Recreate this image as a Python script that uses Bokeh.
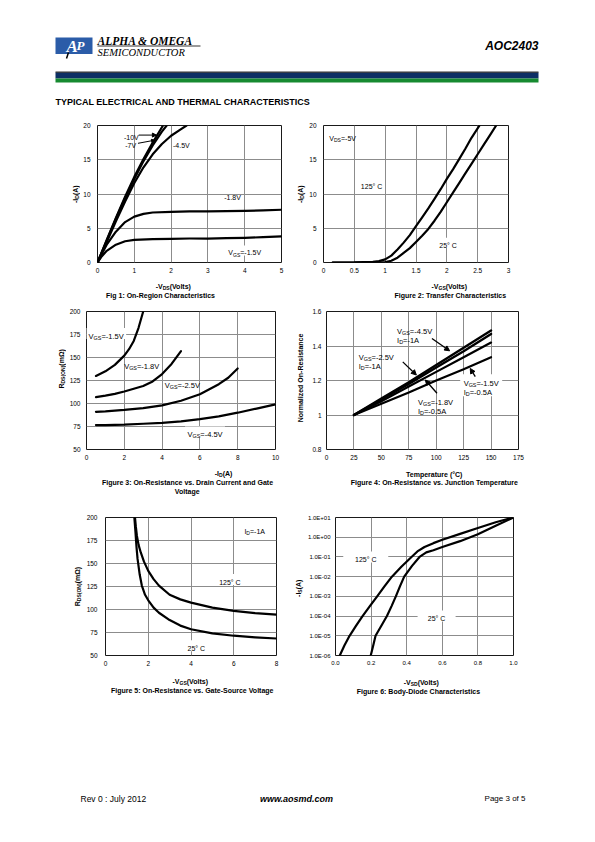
import math
import re
from bokeh.plotting import figure
from bokeh.models import Range1d, Label, Arrow, NormalHead, FixedTicker, CustomJSTickFormatter
from bokeh.layouts import column, row
from bokeh.embed import file_html
from bokeh.resources import INLINE

SANS = "Liberation Sans"
SERIF = "Liberation Serif"

# ---------------------------------------------------------------- data
# Fig 1: On-region characteristics (-VDS in V, -ID in A)
F1_X_10 = [0, 0.1, 0.25, 0.5, 0.75, 1.0, 1.25, 1.5, 1.78]
F1_Y_10 = [0, 1.3, 3.3, 6.5, 9.6, 12.5, 15.1, 17.5, 20]
F1_X_7 = [0, 0.1, 0.25, 0.5, 0.75, 1.0, 1.25, 1.5, 1.75, 1.88]
F1_Y_7 = [0, 1.3, 3.2, 6.4, 9.4, 12.2, 14.8, 17.1, 19.1, 20]
F1_X_45 = [0, 0.1, 0.25, 0.5, 0.75, 1.0, 1.25, 1.5, 1.75, 2.0, 2.25, 2.42]
F1_Y_45 = [0, 1.2, 3.0, 6.0, 8.9, 11.6, 13.9, 15.8, 17.3, 18.5, 19.4, 20]
F1_X_18 = [0, 0.1, 0.25, 0.5, 0.75, 1.0, 1.25, 1.5, 2.0, 2.5, 3.0, 3.5, 4.0, 4.5, 5.0]
F1_Y_18 = [0, 1.1, 2.6, 4.5, 5.9, 6.7, 7.1, 7.3, 7.4, 7.45, 7.45, 7.5, 7.55, 7.6, 7.7]
F1_X_15 = [0, 0.1, 0.25, 0.5, 0.75, 1.0, 1.5, 2.0, 2.5, 3.0, 3.5, 4.0, 4.5, 5.0]
F1_Y_15 = [0, 0.8, 1.7, 2.6, 3.1, 3.3, 3.4, 3.45, 3.5, 3.5, 3.55, 3.6, 3.7, 3.8]
F1_XT = [0, 1, 2, 3, 4, 5]
F1_XL = ["0", "1", "2", "3", "4", "5"]
F1_YT = [0, 5, 10, 15, 20]
F1_YL = ["0", "5", "10", "15", "20"]

# Fig 2: Transfer characteristics (-VGS in V, -ID in A)
F2_X_125 = [0.15, 0.5, 0.8, 0.9, 1.0, 1.1, 1.2, 1.3, 1.4, 1.5, 1.6, 1.7, 1.8, 1.9, 2.0, 2.1, 2.2, 2.3, 2.4, 2.53]
F2_Y_125 = [0, 0.02, 0.1, 0.2, 0.45, 1.0, 1.9, 2.9, 4.0, 5.3, 6.6, 7.9, 9.3, 10.7, 12.2, 13.6, 15.1, 16.6, 18.2, 20]
F2_X_25 = [0.15, 0.5, 0.9, 1.0, 1.1, 1.2, 1.3, 1.4, 1.5, 1.6, 1.7, 1.8, 1.9, 2.0, 2.1, 2.2, 2.3, 2.4, 2.5, 2.6, 2.7, 2.8]
F2_Y_25 = [0, 0, 0.02, 0.07, 0.25, 0.7, 1.4, 2.1, 3.0, 3.9, 4.9, 6.1, 7.4, 8.8, 10.2, 11.6, 13.0, 14.4, 15.8, 17.2, 18.6, 20]
F2_XT = [0, 0.5, 1, 1.5, 2, 2.5, 3]
F2_XL = ["0", "0.5", "1", "1.5", "2", "2.5", "3"]
F2_YT = [0, 5, 10, 15, 20]
F2_YL = ["0", "5", "10", "15", "20"]

# Fig 3: RDS(ON) (mOhm) vs -ID (A)
F3_X_15 = [0.5, 1.0, 1.5, 2.0, 2.25, 2.5, 2.75, 3.0]
F3_Y_15 = [130, 135, 142, 152, 159, 168, 182, 200]
F3_X_18 = [0.5, 1.0, 1.5, 2.0, 2.5, 3.0, 3.5, 4.0, 4.5, 5.0]
F3_Y_18 = [107, 108.5, 110.5, 113, 116, 119, 124, 132, 143, 157]
F3_X_25 = [0.5, 1, 2, 3, 4, 5, 6, 7, 7.5, 8]
F3_Y_25 = [91, 91.5, 93, 95, 98, 103, 110, 121, 128, 138]
F3_X_45 = [0.5, 1, 2, 3, 4, 5, 6, 7, 8, 9, 10]
F3_Y_45 = [76.5, 76.5, 77, 78, 79, 80.5, 83, 86, 90, 94.5, 99]
F3_XT = [0, 2, 4, 6, 8, 10]
F3_XL = ["0", "2", "4", "6", "8", "10"]
F3_YT = [50, 75, 100, 125, 150, 175, 200]
F3_YL = ["50", "75", "100", "125", "150", "175", "200"]

# Fig 4: Normalized on-resistance vs junction temperature (C)
F4_T = [25, 50, 75, 100, 125, 150]
F4_R_45 = [1.0, 1.095, 1.19, 1.29, 1.39, 1.49]
F4_R_25 = [1.0, 1.09, 1.18, 1.275, 1.37, 1.47]
F4_R_18 = [1.0, 1.08, 1.165, 1.25, 1.335, 1.42]
F4_R_15 = [1.0, 1.065, 1.13, 1.2, 1.265, 1.335]
F4_XT = [0, 25, 50, 75, 100, 125, 150, 175]
F4_XL = ["0", "25", "50", "75", "100", "125", "150", "175"]
F4_YT = [0.8, 1.0, 1.2, 1.4, 1.6]
F4_YL = ["0.8", "1", "1.2", "1.4", "1.6"]

# Fig 5: RDS(ON) (mOhm) vs -VGS (V)
F5_X_125 = [1.38, 1.42, 1.47, 1.55, 1.65, 1.8, 2.0, 2.25, 2.5, 3.0, 3.5, 4.0, 5.0, 6.0, 7.0, 8.0]
F5_Y_125 = [200, 190, 180, 170, 162, 152, 142, 133, 126, 116, 111, 107.5, 102, 98.5, 96, 94.5]
F5_X_25 = [1.35, 1.4, 1.45, 1.5, 1.6, 1.7, 1.85, 2.0, 2.25, 2.5, 3.0, 3.5, 4.0, 5.0, 6.0, 7.0, 8.0]
F5_Y_25 = [200, 185, 168, 155, 138, 126, 116, 110, 102, 96.5, 88.5, 82.5, 78.5, 74, 71.5, 69.8, 68.5]
F5_XT = [0, 2, 4, 6, 8]
F5_XL = ["0", "2", "4", "6", "8"]
F5_YT = [50, 75, 100, 125, 150, 175, 200]
F5_YL = ["50", "75", "100", "125", "150", "175", "200"]

# Fig 6: Body diode, -IS (A) vs -VSD (V)
F6_X_125 = [0.024, 0.05, 0.079, 0.115, 0.152, 0.193, 0.234, 0.275, 0.317, 0.37, 0.427, 0.46, 0.5, 0.55, 0.6, 0.7, 0.8, 0.9, 1.0]
F6_Y_125 = [1e-6, 3.2e-6, 1e-5, 3.2e-5, 1e-4, 3.2e-4, 1e-3, 3.2e-3, 1e-2, 3.2e-2, 0.1, 0.19, 0.32, 0.5, 0.74, 1.48, 2.95, 5.75, 10]
F6_X_25 = [0.198, 0.212, 0.225, 0.26, 0.289, 0.315, 0.339, 0.362, 0.386, 0.43, 0.472, 0.51, 0.55, 0.6, 0.7, 0.8, 0.9, 1.0]
F6_Y_25 = [1e-6, 3.2e-6, 1e-5, 3.5e-5, 1e-4, 3.2e-4, 1e-3, 3.2e-3, 1e-2, 3.5e-2, 0.1, 0.17, 0.22, 0.32, 0.63, 1.41, 3.8, 10]
F6_XT = [0, 0.2, 0.4, 0.6, 0.8, 1.0]
F6_XL = ["0.0", "0.2", "0.4", "0.6", "0.8", "1.0"]
F6_YT = [1e-6, 1e-5, 1e-4, 1e-3, 1e-2, 1e-1, 1e0, 1e1]
F6_YL = ["1.0E-06", "1.0E-05", "1.0E-04", "1.0E-03", "1.0E-02", "1.0E-01", "1.0E+00", "1.0E+01"]

# ---------------------------------------------------------------- text helpers
REG = {" ": .278, "(": .333, ")": .333, "+": .584, "-": .333, ".": .278, ":": .278, "=": .584,
       "°": .4, "Ω": .768, "&": .667}
for c in "0123456789":
    REG[c] = .556
REG.update(dict(zip("ABCDEFGHIJKLMNOPQRSTUVWXYZ",
                    [.667, .667, .722, .722, .667, .611, .778, .722, .278, .5, .667, .556, .833,
                     .722, .778, .667, .778, .722, .667, .611, .722, .667, .944, .667, .667, .611])))
REG.update(dict(zip("abcdefghijklmnopqrstuvwxyz",
                    [.556, .556, .5, .556, .556, .278, .556, .556, .222, .222, .5, .222, .833,
                     .556, .556, .556, .556, .333, .5, .278, .556, .5, .722, .5, .5, .5])))
BLD = dict(REG)
BLD.update({":": .333})
BLD.update(dict(zip("ABCDEFGHIJKLMNOPQRSTUVWXYZ",
                    [.722, .722, .722, .722, .667, .611, .778, .722, .278, .556, .722, .611, .833,
                     .722, .778, .667, .778, .722, .667, .611, .722, .667, .944, .667, .667, .611])))
BLD.update(dict(zip("abcdefghijklmnopqrstuvwxyz",
                    [.556, .611, .556, .611, .556, .333, .611, .611, .278, .278, .556, .278, .889,
                     .611, .611, .611, .611, .389, .556, .333, .611, .556, .778, .556, .556, .5])))
SUB = 0.72


def tw(s, size, bold=False):
    tbl = BLD if bold else REG
    return sum(tbl.get(c, .556) for c in s) * size


def parse(s):
    parts, pos = [], 0
    for m in re.finditer(r"_\{([^}]*)\}", s):
        if m.start() > pos:
            parts.append((s[pos:m.start()], False))
        parts.append((m.group(1), True))
        pos = m.end()
    if pos < len(s):
        parts.append((s[pos:], False))
    return parts


def rich(p, s, x, y, size, bold=False, align="center", vertical=False):
    """Text with subscripts, centred (visually) on data point (x, y)."""
    parts = parse(s)
    ws = [tw(t, size * SUB if sub else size, bold) for t, sub in parts]
    total = sum(ws)
    off = {"center": -total / 2, "left": 0.0, "right": -total}[align]
    for (t, sub), w in zip(parts, ws):
        fs = size * SUB if sub else size
        drop = 0.35 * size + (0.22 * size if sub else 0.0)
        if vertical:
            xo, yo, ang = drop, off, math.pi / 2
        else:
            xo, yo, ang = off, -drop, 0.0
        p.add_layout(Label(x=x, y=y, x_offset=xo, y_offset=yo, angle=ang, text=t,
                           text_font=SANS, text_font_size=f"{fs:.2f}px",
                           text_font_style="bold" if bold else "normal", text_align="left",
                           text_baseline="alphabetic", text_color="black"))
        off += w
    return total


def bg(p, x, y, w, h):
    p.rect(x=[x], y=[y], width=w, height=h, width_units="screen", height_units="screen",
           fill_color="white", line_color=None)


def tick_fmt(ticks, labels):
    return CustomJSTickFormatter(args=dict(t=ticks, l=labels), code="""
        let b = 0;
        for (let i = 0; i < t.length; i++) {
            if (Math.abs(t[i] - tick) < Math.abs(t[b] - tick)) { b = i; }
        }
        return l[b];
    """)


def chart(box, frame, xr, yr, xt, xl, yt, yl, ylog=False, xstand=5, ystand=7, tsize=6.5):
    x0, y0, x1, y1 = box
    l, r, t, b = frame
    p = figure(width=x1 - x0, height=y1 - y0, x_range=Range1d(*xr), y_range=Range1d(*yr),
               y_axis_type="log" if ylog else "linear", output_backend="svg",
               toolbar_location=None, min_border_left=l - x0, min_border_right=x1 - r,
               min_border_top=t - y0, min_border_bottom=y1 - b)
    p.xaxis.ticker = FixedTicker(ticks=xt, minor_ticks=[])
    p.yaxis.ticker = FixedTicker(ticks=yt, minor_ticks=[])
    p.xaxis.formatter = tick_fmt(xt, xl)
    p.yaxis.formatter = tick_fmt(yt, yl)
    for ax in p.axis:
        ax.axis_line_color = None
        ax.major_tick_line_color = None
        ax.minor_tick_line_color = None
        ax.major_tick_out = 0
        ax.major_tick_in = 0
        ax.minor_tick_out = 0
        ax.minor_tick_in = 0
        ax.major_label_text_font = SANS
        ax.major_label_text_font_size = f"{tsize}px"
        ax.major_label_text_color = "black"
    p.xaxis.major_label_standoff = xstand
    p.yaxis.major_label_standoff = ystand
    p.grid.grid_line_color = "#8c8c8c"
    p.grid.grid_line_width = 1
    p.outline_line_color = "#1a1a1a"
    p.outline_line_width = 1
    p.background_fill_color = "white"
    p.border_fill_color = "white"
    return p


def strip(x0, y0, x1, y1):
    """Blank panel whose data coordinates are page pixels (y downwards)."""
    p = figure(width=x1 - x0, height=y1 - y0, x_range=Range1d(x0, x1), y_range=Range1d(y1, y0),
               output_backend="svg", toolbar_location=None, x_axis_location=None,
               y_axis_location=None, min_border=0)
    p.grid.visible = False
    p.outline_line_color = None
    p.background_fill_color = "white"
    p.border_fill_color = "white"
    return p


def curve(p, xs, ys, w=2.2):
    p.line(xs, ys, line_color="black", line_width=w, line_join="round", line_cap="round")


def arrow(p, xs, ys, xe, ye, size=4.0, w=1.0):
    p.add_layout(Arrow(end=NormalHead(size=size, fill_color="black", line_color="black", line_width=1),
                       x_start=xs, y_start=ys, x_end=xe, y_end=ye, line_color="black", line_width=w))


def ptext(p, s, x, y, size, font=SANS, style="normal", align="left", color="black"):
    p.add_layout(Label(x=x, y=y, text=s, text_font=font, text_font_size=f"{size}px",
                       text_font_style=style, text_align=align, text_baseline="middle",
                       text_color=color))


AX = 7.0    # axis title size
CAP = 7.0   # caption size
ANN = 7.0   # in-plot annotation size
A3 = 7.5    # annotation size, figures 3 and 4
W = 590     # page content width

# ---------------------------------------------------------------- row 1
f1 = chart((80, 112, 290, 277), (96, 281, 125, 262), (0, 5), (0, 20), F1_XT, F1_XL, F1_YT, F1_YL)
bg(f1, 4.0, 1.75, 36, 10)
curve(f1, F1_X_10, F1_Y_10)
curve(f1, F1_X_7, F1_Y_7)
curve(f1, F1_X_45, F1_Y_45)
curve(f1, F1_X_18, F1_Y_18)
curve(f1, F1_X_15, F1_Y_15)
rich(f1, "-10V", 0.92, 18.6, ANN)
arrow(f1, 1.12, 18.6, 1.6, 18.6, size=4)
rich(f1, "-7V", 0.9, 17.4, ANN)
arrow(f1, 1.1, 17.4, 1.55, 17.85, size=3)
rich(f1, "-4.5V", 2.28, 17.4, ANN)
rich(f1, "-1.8V", 3.67, 9.9, ANN)
rich(f1, "V_{GS}=-1.5V", 4.0, 1.75, ANN)

f2 = chart((306, 112, W, 277), (322, 508, 125, 262), (0, 3), (0, 20), F2_XT, F2_XL, F2_YT, F2_YL)
bg(f2, 2.02, 2.9, 26, 10)
curve(f2, F2_X_125, F2_Y_125)
curve(f2, F2_X_25, F2_Y_25)
rich(f2, "V_{DS}=-5V", 0.31, 18.5, ANN)
rich(f2, "125° C", 0.78, 11.4, ANN)
rich(f2, "25° C", 2.02, 2.9, ANN)

s1 = strip(0, 112, 80, 277)
rich(s1, "-I_{D} (A)", 73, 193.5, AX, bold=True, vertical=True)
s2 = strip(290, 112, 306, 277)
rich(s2, "-I_{D} (A)", 298, 193.5, AX, bold=True, vertical=True)
b1 = strip(0, 277, W, 300)
rich(b1, "-V_{DS} (Volts)", 174, 284, AX, bold=True)
rich(b1, "Fig 1: On-Region Characteristics", 160, 293, CAP, bold=True)
rich(b1, "-V_{GS}(Volts)", 449, 284, AX, bold=True)
rich(b1, "Figure 2: Transfer Characteristics", 450, 293, CAP, bold=True)

# ---------------------------------------------------------------- row 2
f3 = chart((66, 300, 290, 466), (83, 275, 307, 449), (0, 10), (50, 200), F3_XT, F3_XL, F3_YT, F3_YL,
           ystand=6)
bg(f3, 1.04, 176, 40, 11)
bg(f3, 6.27, 69, 40, 11)
curve(f3, F3_X_15, F3_Y_15)
curve(f3, F3_X_18, F3_Y_18)
curve(f3, F3_X_25, F3_Y_25)
curve(f3, F3_X_45, F3_Y_45)
rich(f3, "V_{GS}=-1.5V", 1.04, 176, A3)
rich(f3, "V_{GS}=-1.8V", 2.92, 143, A3)
rich(f3, "V_{GS}=-2.5V", 5.07, 122.5, A3)
rich(f3, "V_{GS}=-4.5V", 6.27, 69, A3)

f4 = chart((306, 300, W, 466), (326, 518, 311, 450), (0, 175), (0.8, 1.6), F4_XT, F4_XL, F4_YT, F4_YL,
           ystand=5)
bg(f4, 141.0, 1.172, 42, 22)
curve(f4, F4_T, F4_R_45, 2.4)
curve(f4, F4_T, F4_R_25, 2.4)
curve(f4, F4_T, F4_R_18)
curve(f4, F4_T, F4_R_15)
rich(f4, "V_{GS}=-4.5V", 64.3, 1.50, A3, align="left")
rich(f4, "I_{D}=-1A", 64.3, 1.448, A3, align="left")
arrow(f4, 96.1, 1.443, 112.2, 1.372, size=5, w=1.3)
rich(f4, "V_{GS}=-2.5V", 29.4, 1.347, A3, align="left")
rich(f4, "I_{D}=-1A", 29.4, 1.295, A3, align="left")
arrow(f4, 69.5, 1.308, 81.9, 1.232, size=5, w=1.3)
rich(f4, "V_{GS}=-1.8V", 83.4, 1.088, A3, align="left")
rich(f4, "I_{D}=-0.5A", 83.4, 1.036, A3, align="left")
arrow(f4, 100.7, 1.126, 90.1, 1.203, size=5, w=1.3)
rich(f4, "V_{GS}=-1.5V", 125.0, 1.199, A3, align="left")
rich(f4, "I_{D}=-0.5A", 125.0, 1.145, A3, align="left")
arrow(f4, 135.6, 1.222, 131.0, 1.27, size=5, w=1.3)

s3 = strip(0, 300, 66, 466)
rich(s3, "R_{DS(ON)} (mΩ)", 59, 368, AX, bold=True, vertical=True)
s4 = strip(290, 300, 306, 466)
rich(s4, "Normalized On-Resistance", 298, 380, AX, bold=True, vertical=True)
b2 = strip(0, 466, W, 500)
rich(b2, "-I_{D} (A)", 224, 471, AX, bold=True)
rich(b2, "Figure 3: On-Resistance vs. Drain Current and Gate", 187, 480, CAP, bold=True)
rich(b2, "Voltage", 187, 489, CAP, bold=True)
rich(b2, "Temperature (°C)", 434, 472, AX, bold=True)
rich(b2, "Figure 4: On-Resistance vs. Junction Temperature", 434, 480, CAP, bold=True)

# ---------------------------------------------------------------- row 3
f5 = chart((83, 500, 286, 674), (103, 276, 517, 655), (0, 8), (50, 200), F5_XT, F5_XL, F5_YT, F5_YL,
           ystand=8)
bg(f5, 5.82, 132.5, 34, 11)
bg(f5, 4.25, 60.5, 30, 11)
bg(f5, 6.98, 187, 24, 10)
curve(f5, F5_X_125, F5_Y_125)
curve(f5, F5_X_25, F5_Y_25)
rich(f5, "I_{D}=-1A", 6.98, 187, ANN)
rich(f5, "125° C", 5.82, 132.5, ANN)
rich(f5, "25° C", 4.25, 60.5, ANN)

f6 = chart((304, 500, W, 674), (332, 513, 517, 659), (0, 1), (1e-6, 10), F6_XT, F6_XL, F6_YT, F6_YL,
           ylog=True, ystand=5, tsize=6.0)
bg(f6, 0.17, 1e-1, 45, 11)
bg(f6, 0.568, 1e-4, 38, 11)
curve(f6, F6_X_125, F6_Y_125)
curve(f6, F6_X_25, F6_Y_25)
rich(f6, "125° C", 0.17, 1e-1, ANN)
rich(f6, "25° C", 0.568, 1e-4, ANN)

s5 = strip(0, 500, 83, 674)
rich(s5, "R_{DS(ON)} (mΩ)", 75, 586, AX, bold=True, vertical=True)
s6 = strip(286, 500, 304, 674)
rich(s6, "-I_{S} (A)", 296, 588, AX, bold=True, vertical=True)
b3 = strip(0, 674, W, 700)
rich(b3, "-V_{GS} (Volts)", 191, 679, AX, bold=True)
rich(b3, "Figure 5: On-Resistance vs. Gate-Source Voltage", 192, 688, CAP, bold=True)
rich(b3, "-V_{SD} (Volts)", 422, 680, AX, bold=True)
rich(b3, "Figure 6: Body-Diode Characteristics", 418, 689, CAP, bold=True)

# ---------------------------------------------------------------- header / footer
head = strip(0, 0, W, 112)
head.quad(left=[55], right=[92], top=[37], bottom=[53.5], fill_color="#2b5ca8", line_color=None)
ptext(head, "A", 66, 46, 17, font=SERIF, style="bold italic", color="white")
ptext(head, "P", 76, 45, 13, font=SERIF, style="bold italic", color="white")
head.line([68, 66], [52, 58], line_color="black", line_width=1.5)
ptext(head, "ALPHA & OMEGA", 97, 40.5, 11.5, font=SERIF, style="bold italic")
head.line([97, 200], [45.5, 45.5], line_color="black", line_width=0.8)
ptext(head, "SEMICONDUCTOR", 97, 51.5, 10.5, font=SERIF, style="italic")
ptext(head, "AOC2403", 538, 45, 12, style="bold italic", align="right")
head.quad(left=[55], right=[538], top=[72], bottom=[78], fill_color="#0d2f64", line_color=None)
head.quad(left=[55], right=[538], top=[78], bottom=[82], fill_color="#168a30", line_color=None)
head.line([55, 538], [71.6, 71.6], line_color="black", line_width=1)
ptext(head, "TYPICAL ELECTRICAL AND THERMAL CHARACTERISTICS", 55, 101, 9, style="bold")

foot = strip(0, 700, W, 834)
ptext(foot, "Rev 0 : July 2012", 80, 798, 8.5)
ptext(foot, "www.aosmd.com", 296, 798, 9, style="bold italic", align="center")
ptext(foot, "Page 3 of 5", 525, 798, 8, align="right")

layout = column(
    head,
    row(s1, f1, s2, f2, spacing=0), b1,
    row(s3, f3, s4, f4, spacing=0), b2,
    row(s5, f5, s6, f6, spacing=0), b3,
    foot,
    spacing=0,
)

with open("out.html", "w") as fh:
    fh.write(file_html(layout, INLINE, "AOC2403"))
